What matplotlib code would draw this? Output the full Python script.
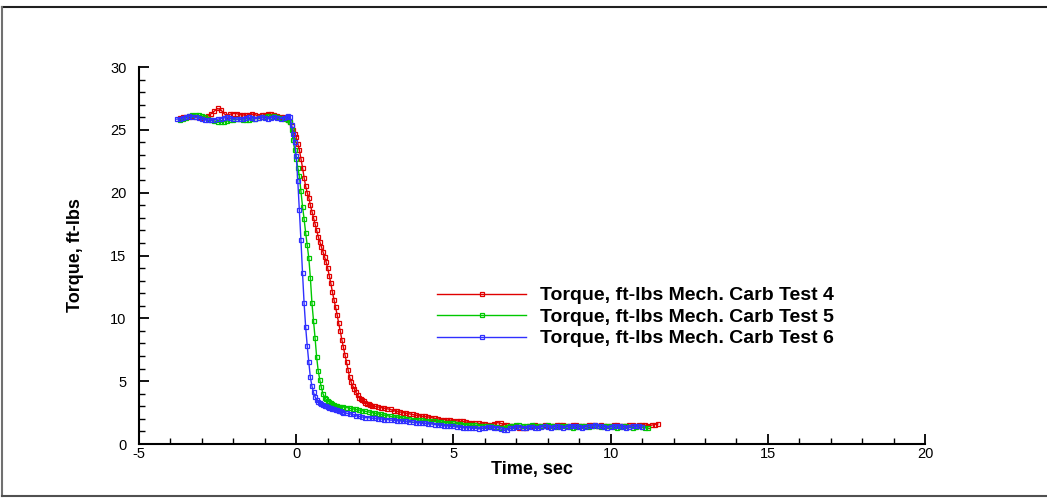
import numpy as np
import matplotlib.pyplot as plt
from matplotlib.lines import Line2D
from matplotlib.ticker import MultipleLocator

plt.rcParams['font.family'] = ['Liberation Sans', 'DejaVu Sans']
plt.rcParams['axes.unicode_minus'] = False

# Torque samples, ft-lbs in three segments per test:
# (start time, sample step, values)
red_pre = (-3.7, 0.1, [25.95, 26.0, 26.05, 26.0, 26.1, 26.05, 26.0, 25.95, 26.0, 26.1,
                       26.3, 26.5, 26.7, 26.6, 26.3, 26.1, 26.25, 26.3, 26.3, 26.2,
                       26.2, 26.15, 26.2, 26.25, 26.2, 26.1, 26.15, 26.2, 26.3, 26.25,
                       26.15, 26.1, 26.05, 26.0])
red_drop = (-0.35, 0.05, [25.95, 25.9, 25.8, 25.6, 25.3, 25.0, 24.7, 24.4, 23.9, 23.4,
                          22.7, 22.0, 21.2, 20.5, 20.0, 19.6, 19.0, 18.5, 18.0, 17.5,
                          17.0, 16.5, 16.1, 15.7, 15.3, 14.9, 14.5, 14.0, 13.4, 12.8,
                          12.1, 11.5, 10.9, 10.3, 9.6, 9.0, 8.3, 7.7, 7.1, 6.5,
                          5.9, 5.3, 4.9, 4.6, 4.4, 4.1, 3.9, 3.7, 3.6, 3.5,
                          3.4, 3.3, 3.2, 3.15, 3.1, 3.05])
red_tail = (2.5, 0.1, [3.0, 2.95, 2.9, 2.85, 2.8, 2.75, 2.65, 2.6, 2.55, 2.5,
                       2.45, 2.4, 2.35, 2.3, 2.25, 2.2, 2.2, 2.15, 2.1, 2.05,
                       2.0, 1.95, 1.95, 1.9, 1.9, 1.85, 1.85, 1.8, 1.8, 1.75,
                       1.7, 1.7, 1.65, 1.65, 1.6, 1.6, 1.55, 1.55, 1.6, 1.7,
                       1.65, 1.55, 1.5, 1.45, 1.45, 1.4, 1.3, 1.25, 1.3, 1.4,
                       1.45, 1.5, 1.45, 1.45, 1.5, 1.45, 1.4, 1.45, 1.5, 1.55,
                       1.5, 1.45, 1.45, 1.5, 1.5, 1.45, 1.4, 1.45, 1.5, 1.55,
                       1.5, 1.45, 1.5, 1.45, 1.4, 1.45, 1.5, 1.5, 1.45, 1.4,
                       1.45, 1.5, 1.5, 1.45, 1.5, 1.55, 1.5, 1.45, 1.5, 1.55,
                       1.6])

green_pre = (-3.7, 0.1, [25.8, 25.85, 25.95, 26.1, 26.2, 26.2, 26.15, 26.1, 26.0, 25.9,
                         25.8, 25.7, 25.6, 25.6, 25.65, 25.7, 25.75, 25.8, 25.85, 25.85,
                         25.8, 25.75, 25.8, 25.85, 25.9, 25.95, 26.0, 26.05, 26.1, 26.05,
                         26.1, 26.0, 25.95, 25.9, 25.85])
green_drop = (-0.25, 0.05, [25.8, 25.6, 25.0, 24.2, 23.4, 22.7, 22.0, 21.3, 20.1, 18.9,
                            17.9, 16.8, 15.8, 14.8, 13.2, 11.2, 9.8, 8.4, 6.9, 5.8,
                            5.1, 4.5, 4.0, 3.7, 3.55, 3.4, 3.35, 3.25, 3.2, 3.1,
                            3.05, 3.0, 2.95, 2.95, 2.9])
green_tail = (1.5, 0.1, [2.95, 2.9, 2.85, 2.8, 2.75, 2.7, 2.65, 2.6, 2.55, 2.5,
                         2.45, 2.4, 2.35, 2.3, 2.25, 2.2, 2.15, 2.15, 2.1, 2.05,
                         2.0, 2.0, 1.95, 1.95, 1.9, 1.9, 1.85, 1.85, 1.8, 1.8,
                         1.75, 1.75, 1.7, 1.7, 1.65, 1.65, 1.6, 1.6, 1.55, 1.55,
                         1.5, 1.5, 1.5, 1.45, 1.45, 1.4, 1.4, 1.4, 1.35, 1.35,
                         1.3, 1.3, 1.35, 1.4, 1.45, 1.5, 1.5, 1.45, 1.4, 1.45,
                         1.5, 1.45, 1.4, 1.4, 1.45, 1.5, 1.45, 1.4, 1.35, 1.4,
                         1.45, 1.4, 1.35, 1.3, 1.35, 1.4, 1.45, 1.4, 1.35, 1.4,
                         1.45, 1.4, 1.35, 1.4, 1.45, 1.4, 1.35, 1.3, 1.35, 1.4,
                         1.4, 1.35, 1.3, 1.35, 1.4, 1.35, 1.3, 1.25])

blue_pre = (-3.8, 0.1, [25.85, 25.9, 25.95, 26.05, 26.1, 26.05, 26.0, 25.95, 25.85, 25.8,
                        25.75, 25.75, 25.8, 25.85, 25.9, 25.95, 26.0, 25.95, 25.9, 25.85,
                        25.85, 25.9, 25.95, 26.0, 25.95, 25.9, 25.95, 26.0, 25.95, 25.9,
                        25.95, 26.0, 25.95, 25.9, 25.95, 26.0])
blue_drop = (-0.25, 0.05, [26.1, 26.05, 25.4, 24.7, 24.0, 22.9, 20.9, 18.6, 16.2, 13.6,
                           11.2, 9.3, 7.8, 6.5, 5.3, 4.6, 4.1, 3.75, 3.5, 3.35,
                           3.25, 3.15, 3.1, 3.05, 3.0, 2.95, 2.9, 2.85, 2.8, 2.75,
                           2.7, 2.7, 2.65, 2.6, 2.55])
blue_tail = (1.5, 0.1, [2.5, 2.45, 2.4, 2.35, 2.25, 2.2, 2.15, 2.1, 2.1, 2.05,
                        2.05, 2.0, 2.0, 1.95, 1.95, 1.9, 1.9, 1.85, 1.85, 1.8,
                        1.8, 1.75, 1.75, 1.7, 1.7, 1.65, 1.65, 1.6, 1.6, 1.55,
                        1.5, 1.5, 1.45, 1.45, 1.4, 1.4, 1.35, 1.35, 1.3, 1.3,
                        1.3, 1.25, 1.25, 1.2, 1.25, 1.3, 1.35, 1.35, 1.3, 1.3,
                        1.2, 1.1, 1.15, 1.25, 1.3, 1.35, 1.35, 1.3, 1.3, 1.35,
                        1.35, 1.3, 1.3, 1.35, 1.4, 1.35, 1.3, 1.35, 1.4, 1.35,
                        1.3, 1.35, 1.4, 1.45, 1.4, 1.35, 1.3, 1.35, 1.4, 1.45,
                        1.5, 1.45, 1.4, 1.35, 1.3, 1.35, 1.4, 1.45, 1.4, 1.35,
                        1.3, 1.35, 1.4, 1.45, 1.4, 1.35])

labels = ["Torque, ft-lbs Mech. Carb Test 4",
          "Torque, ft-lbs Mech. Carb Test 5",
          "Torque, ft-lbs Mech. Carb Test 6"]
colors = ['#e00000', '#00c800', '#3030ff']


def join(*segs):
    t, y = [], []
    for t0, dt, vals in segs:
        t.extend(t0 + dt * np.arange(len(vals)))
        y.extend(vals)
    return np.array(t), np.array(y)


series = [join(red_pre, red_drop, red_tail),
          join(green_pre, green_drop, green_tail),
          join(blue_pre, blue_drop, blue_tail)]

fig = plt.figure(figsize=(10.47, 4.98), dpi=100)
ax = fig.add_axes([0.1328, 0.1084, 0.7507, 0.7570])

for (t, y), c, lab in zip(series, colors, labels):
    ax.plot(t, y, '-', color=c, lw=1.0, marker='s', ms=3.4, mfc='none',
            mec=c, mew=0.9, label=lab)

ax.set_xlim(-5, 20)
ax.set_ylim(0, 30)
ax.xaxis.set_major_locator(MultipleLocator(5))
ax.xaxis.set_minor_locator(MultipleLocator(1))
ax.yaxis.set_major_locator(MultipleLocator(5))
ax.yaxis.set_minor_locator(MultipleLocator(1))
ax.spines['top'].set_visible(False)
ax.spines['right'].set_visible(False)
ax.spines['left'].set_linewidth(1.5)
ax.spines['bottom'].set_linewidth(1.5)
ax.tick_params(which='major', direction='in', length=7, width=1.3, labelsize=10.5)
ax.tick_params(which='minor', direction='in', length=4, width=1.0)
ax.tick_params(axis='x', which='major', pad=2)
ax.tick_params(axis='y', which='major', pad=9)

ax.set_xlabel("Time, sec", fontsize=13, fontweight='bold')
ax.set_ylabel("Torque, ft-lbs", fontsize=13, fontweight='bold')
ax.xaxis.set_label_coords(0.5, -0.045)
ax.yaxis.set_label_coords(-0.07, 0.5)

ax.legend(loc='center left', bbox_to_anchor=(437 / 1047, 1 - 317 / 498),
          bbox_transform=fig.transFigure, frameon=False, numpoints=1,
          handlelength=4.6, handletextpad=0.7, labelspacing=0.2,
          borderpad=0, borderaxespad=0,
          prop={'size': 14, 'weight': 'bold'})

# outer frame around the plot area
fig.add_artist(Line2D([2 / 1047, 1], [1 - 7 / 498, 1 - 7 / 498],
                      transform=fig.transFigure, color='#202020', lw=1.5))
fig.add_artist(Line2D([2 / 1047, 2 / 1047], [1 - 7 / 498, 2 / 498],
                      transform=fig.transFigure, color='#707070', lw=1.5))
fig.add_artist(Line2D([2 / 1047, 1], [2 / 498, 2 / 498],
                      transform=fig.transFigure, color='#505050', lw=1.5))

fig.savefig('out.png', dpi=100)
